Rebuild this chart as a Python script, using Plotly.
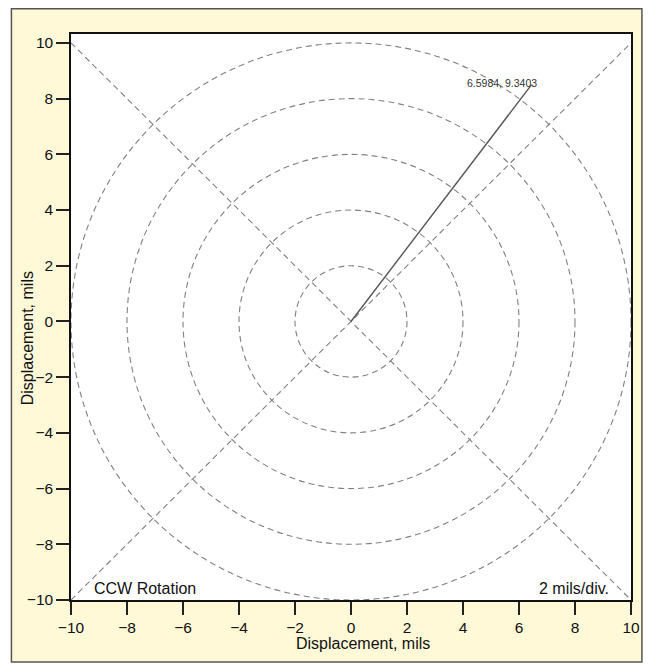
import plotly.graph_objects as go

# Data
radii = [2, 4, 6, 8, 10]
diag_x = [-10, 10]
diag_y1 = [10, -10]
diag_y2 = [-10, 10]
vector_x = [0, 6.45]
vector_y = [0, 8.5]
vector_label = "6.5984, 9.3403"
tick_vals = [-10, -8, -6, -4, -2, 0, 2, 4, 6, 8, 10]
x_title = "Displacement, mils"
y_title = "Displacement, mils"
note_left = "CCW Rotation"
note_right = "2 mils/div."

FONT = "Liberation Sans, Arial, Helvetica, sans-serif"
GRID = "#808080"
DASH = "6px,4px"

fig = go.Figure()

# diagonal dashed lines
fig.add_trace(go.Scatter(x=diag_x, y=diag_y1, mode="lines",
                         line=dict(color=GRID, width=1.1, dash=DASH),
                         hoverinfo="skip", showlegend=False))
fig.add_trace(go.Scatter(x=diag_x, y=diag_y2, mode="lines",
                         line=dict(color=GRID, width=1.1, dash=DASH),
                         hoverinfo="skip", showlegend=False))

shapes = []
# yellow outer panel with border
shapes.append(dict(type="rect", xref="paper", yref="paper",
                   x0=-0.10638, x1=1.01950, y0=-0.10954, y1=1.04461,
                   fillcolor="#FFF9D8",
                   line=dict(color="#555555", width=1.5), layer="below"))
# white plotting area
shapes.append(dict(type="rect", xref="paper", yref="paper",
                   x0=0, x1=1, y0=0, y1=1,
                   fillcolor="#FFFFFF", line=dict(width=0), layer="below"))
# circles
for r in radii:
    shapes.append(dict(type="circle", xref="x", yref="y",
                       x0=-r, y0=-r, x1=r, y1=r,
                       line=dict(color=GRID, width=1.1, dash=DASH), layer="above"))

# vector line
fig.add_trace(go.Scatter(x=vector_x, y=vector_y, mode="lines",
                         line=dict(color="#555555", width=1.4),
                         hoverinfo="skip", showlegend=False))

TXT = dict(family=FONT, size=16, color="#111111")
annotations = [
    dict(x=vector_x[-1], y=vector_y[-1], xref="x", yref="y",
         text=vector_label, showarrow=False, xanchor="right", yanchor="middle",
         xshift=7, yshift=2,
         font=dict(family=FONT, size=10.5, color="#333333")),
    dict(x=-9.25, y=-9.57, xref="x", yref="y", text=note_left, showarrow=False,
         xanchor="left", yanchor="middle", font=TXT),
    dict(x=9.29, y=-9.57, xref="x", yref="y", text=note_right, showarrow=False,
         xanchor="right", yanchor="middle", font=TXT),
    dict(x=0.5222, y=-0.0760, xref="paper", yref="paper", text=x_title,
         showarrow=False, xanchor="center", yanchor="middle", font=TXT),
    dict(x=-0.0762, y=0.4629, xref="paper", yref="paper", text=y_title,
         showarrow=False, xanchor="center", yanchor="middle", textangle=-90, font=TXT),
]

axis_common = dict(
    tickvals=tick_vals,
    ticks="outside", ticklen=13, tickwidth=1.5, tickcolor="#222222",
    showline=True, linecolor="#111111", linewidth=1.5, mirror=True,
    showgrid=False, zeroline=False,
    tickfont=dict(family=FONT, size=15.5, color="#111111"),
)

fig.update_layout(
    width=644, height=661,
    margin=dict(l=63, r=17, t=26, b=69),
    paper_bgcolor="#FFFFFF",
    plot_bgcolor="#FFFFFF",
    showlegend=False,
    shapes=shapes,
    annotations=annotations,
    xaxis=dict(range=[-10, 10], **axis_common),
    yaxis=dict(range=[-10, 10.32], **axis_common),
)

fig.write_html("out.html")
